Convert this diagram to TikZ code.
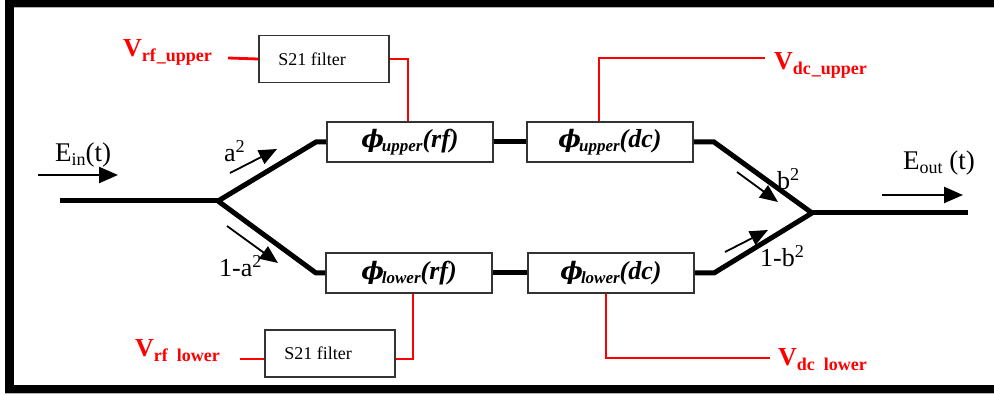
\documentclass[tikz,border=0pt]{standalone}
\usepackage{fontspec}
\setmainfont{Liberation Serif}
\newfontfamily\phifont{DejaVu Serif}
\usetikzlibrary{arrows.meta}
\newcommand{\phlab}[2]{{\phifont\bfseries\itshape\fontsize{24}{28}\selectfont ϕ}\kern-2pt\raisebox{-4pt}{\fontsize{17}{20}\selectfont #1}(#2)}
\newcommand{\vlabtxt}[2]{V\raisebox{-5pt}{\fontsize{18}{20}\selectfont #1\hspace{1pt}#2}}
\begin{document}
\begin{tikzpicture}[x=1pt,y=-1pt,
  wg/.style={line width=5pt,black,line join=miter},
  rline/.style={red,line width=2.8pt},
  phbox/.style={draw=black!80,line width=1.6pt,fill=white,minimum width=166pt,minimum height=40pt,inner sep=0pt,
    font=\bfseries\itshape\fontsize{26}{30}\selectfont},
  filt/.style={draw=black!80,line width=1.6pt,fill=white,minimum width=130pt,minimum height=47pt,inner sep=0pt,
    font=\fontsize{18}{22}\selectfont},
  vlab/.style={red,inner sep=0pt,anchor=base west,font=\bfseries\fontsize{26}{30}\selectfont},
  lab/.style={inner sep=0pt,anchor=base west,font=\fontsize{26}{30}\selectfont},
  elab/.style={inner sep=0pt,anchor=base west,font=\fontsize{27}{30}\selectfont},
  arr/.style={-{Triangle[length=18pt,width=15pt]},line width=1.8pt},
  bigarr/.style={-{Triangle[length=19pt,width=16pt]},line width=2.4pt}]
\useasboundingbox (0,0) rectangle (994,395);
% frame
\fill[black] (5,0) rectangle (994,7);
\fill[black] (5,0) rectangle (14,393);
\fill[black] (5,385) rectangle (994,393);
\fill[black!30] (5,393) rectangle (994,394.5);
\fill[black!30] (14,7) rectangle (994,8);

% text labels
\node[elab] (ein) at (55,162) {E\raisebox{-4pt}{\fontsize{18}{20}\selectfont in}(t)};
\node[elab] (eout) at (903,170) {E\raisebox{-4pt}{\fontsize{18}{20}\selectfont out} (t)};
\node[lab] (la) at (224,162) {a\textsuperscript{2}};
\node[lab] (lma) at (219,277) {1-a\textsuperscript{2}};
\node[lab] (lb) at (777,190) {b\textsuperscript{2}};
\node[lab] (lmb) at (760,267) {1-b\textsuperscript{2}};

\node[vlab] (vrfu) at (123,57) {\vlabtxt{rf}{\_upper}};
\node[vlab] (vrfl) at (135,357) {\vlabtxt{rf}{\hspace{8pt}lower}};
\node[vlab] (vdcu) at (774,70) {\vlabtxt{dc}{\_upper}};
\node[vlab] (vdcl) at (778,366) {\vlabtxt{dc}{\hspace{8pt}lower}};

% boxes
\node[phbox] (rfU) at (410,142) {\phlab{upper}{rf}};
\node[phbox] (dcU) at (610,142) {\phlab{upper}{dc}};
\node[phbox] (rfL) at (409,273) {\phlab{lower}{rf}};
\node[phbox] (dcL) at (611,273) {\phlab{lower}{dc}};
\node[filt] (S21U) at (324,59) {S21 filter\hspace*{24pt}};
\node[filt] (S21L) at (330,353.5) {S21 filter\hspace*{24pt}};

% waveguide coordinates
\coordinate (in) at (60,201);
\coordinate (split) at (218,201);
\coordinate (ku1) at (316,142);
\coordinate (kl1) at (316,273);
\coordinate (ku2) at (714,142);
\coordinate (kl2) at (714,273);
\coordinate (merge) at (812,213);
\coordinate (out) at (968,213);

\draw[wg] (in) -- (split);
\draw[wg] (split) -- (ku1) -- (rfU.west);
\draw[wg] (split) -- (kl1) -- (rfL.west);
\draw[wg] (rfU.east) -- (dcU.west);
\draw[wg] (rfL.east) -- (dcL.west);
\draw[wg] (dcU.east) -- (ku2) -- (merge);
\draw[wg] (dcL.east) -- (kl2) -- (merge);
\draw[wg] (merge) -- (out);

% red control lines
\coordinate (vrfuE) at (228,58);
\coordinate (vrflE) at (240,359);
\coordinate (vdcuE) at (765,58);
\coordinate (vdclE) at (770,358);
\draw[rline] (vrfuE) -- (S21U.west);
\draw[rline] (S21U.east) -| ([xshift=-2pt]rfU.north);
\draw[rline] (vrflE) -- ([yshift=-5.5pt]S21L.west);
\draw[rline] ([yshift=-5.5pt]S21L.east) -| ([xshift=4pt]rfL.south);
\draw[rline] ([xshift=-11pt]dcU.north) |- (vdcuE);
\draw[rline] ([xshift=-5pt]dcL.south) |- (vdclE);

% direction arrows
\coordinate (einA) at (38,175);
\coordinate (einB) at (118,175);
\coordinate (eoutA) at (882,195);
\coordinate (eoutB) at (963,195);
\coordinate (aA) at (230,173);
\coordinate (aB) at (277,149);
\coordinate (maA) at (227,226);
\coordinate (maB) at (278,263);
\coordinate (bA) at (737,172);
\coordinate (bB) at (778,202);
\coordinate (mbA) at (725,252);
\coordinate (mbB) at (768,230);
\draw[bigarr] (einA) -- (einB);
\draw[bigarr] (eoutA) -- (eoutB);
\draw[arr] (aA) -- (aB);
\draw[arr] (maA) -- (maB);
\draw[arr] (bA) -- (bB);
\draw[arr] (mbA) -- (mbB);
\end{tikzpicture}
\end{document}
